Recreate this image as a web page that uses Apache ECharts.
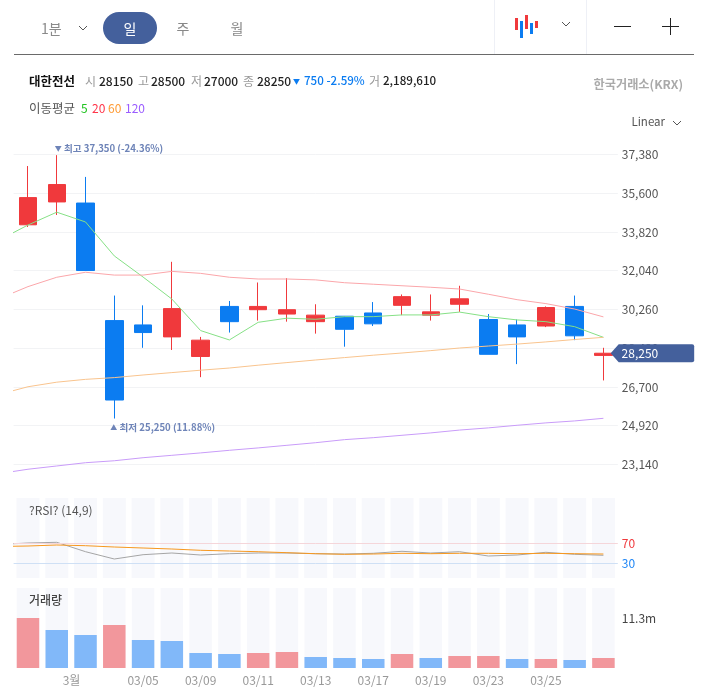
<!DOCTYPE html>
<html>
<head>
<meta charset="utf-8">
<title>대한전선</title>
<script src="https://cdn.jsdelivr.net/npm/echarts@6/dist/echarts.min.js"></script>
<style>html,body{margin:0;padding:0;background:#fff}#c{width:701px;height:697px}</style>
</head>
<body>
<div id="c"></div>
<script>
// The first entry of every array is the session before the visible window; only its line segment shows.
const categories = ['02/25','02/26','02/27','03/03','03/04','03/05','03/06','03/09','03/10','03/11','03/12','03/13','03/16','03/17','03/18','03/19','03/20','03/23','03/24','03/25','03/26','03/27'];
// [open, close, low, high]
const candles = [
  ['-','-','-','-'],
  [34150,35400,34050,36850],[35200,36000,34600,37350],[35150,32050,32050,36350],[29750,26100,25250,30900],
  [29550,29200,28500,30450],[29000,30300,28400,32450],[28100,28850,27150,29000],[30400,29700,29200,30650],
  [30250,30400,29750,31500],[30050,30250,29700,31700],[29700,30000,29150,30500],[29950,29350,28550,29950],
  [30100,29600,29500,30600],[30450,30850,30000,30950],[30000,30150,29750,30950],[30500,30750,30150,31350],
  [29800,28200,28200,30050],[29550,29000,27750,29800],[29500,30350,29450,30400],[30400,29050,28850,30900],
  [28150,28250,27000,28500]
];
const ma5 = [33450,34140,34730,34280,32720,31750,30740,29290,28860,29670,29860,29810,29930,29930,30010,30010,30140,29930,29780,29700,29470,28980];
const ma20 = [30760,31310,31740,31970,31840,31840,32010,31920,31740,31660,31660,31620,31490,31420,31350,31280,31200,30960,30710,30530,30280,29920];
const ma60 = [26360,26710,26920,27050,27130,27250,27360,27470,27570,27700,27820,27940,28050,28160,28260,28370,28490,28580,28670,28770,28880,28980];
const ma120 = [22720,22920,23070,23220,23310,23450,23560,23670,23790,23900,24020,24140,24280,24370,24480,24590,24720,24820,24940,25050,25140,25260];
const rsi = [67,70,71.4,52.6,38,46.6,50,46,48.6,50,50,48.6,48,49.4,53.4,50,52.6,44,46,51.4,47.4,45.4];
const rsiSignal = [63,64,66,64.6,62,60,58,55.4,54,52.6,50.6,48.6,47.4,48,49.4,48.6,49.4,49.4,48.6,49.4,48.6,48];
const volumeM = ['-',11.3,8.59,7.46,9.72,6.33,6.1,3.39,3.16,3.39,3.62,2.49,2.26,2.03,3.16,2.26,2.71,2.71,2.03,2.03,1.81,2.26];
const volumeUp = [0,1,0,0,1,0,0,0,0,1,1,0,0,0,1,0,1,1,0,1,0,1];
const xLabels = {'03/03':'3월','03/05':'03/05','03/09':'03/09','03/11':'03/11','03/13':'03/13','03/17':'03/17','03/19':'03/19','03/23':'03/23','03/25':'03/25'};
const priceTicks = {min:21360,max:37380,interval:1780};
const rsiLevels = [70,30];
const rsiRange = {min:0,max:160};
const volumeRange = {min:0,max:18.08};
const highMark = {idx:2,value:37350,text:'{t|▼} 최고 37,350 (-24.36%)'};
const lowMark = {idx:4,value:25250,text:'{t|▲} 최저 25,250 (11.88%)'};
const lastPrice = {idx:21,value:28250,text:'28,250'};
const volumeMark = {value:11.3,text:'11.3m'};

const RED='#F0393C',BLUE='#0B7CF1',NAVY='#44609C';
const FONT='"Noto Sans CJK KR","Noto Sans",sans-serif';
const stripe='#F7F8FC';

const chart = echarts.init(document.getElementById('c'),null,{renderer:'canvas'});

function t(text,x,y,size,fill,opt){
  opt=opt||{};
  return {type:'text',silent:true,z:20,x:x,y:y,style:{text:text,fontFamily:FONT,fontSize:size,fontWeight:opt.w||400,fill:fill,align:opt.a||'left',verticalAlign:'middle'}};
}
function rect(x,y,w,h,fill,r){return {type:'rect',silent:true,z:19,shape:{x:x,y:y,width:w,height:h,r:r||0},style:{fill:fill}};}
function poly(pts,col){return {type:'polyline',silent:true,z:20,shape:{points:pts},style:{stroke:col,lineWidth:1,fill:null}};}

const graphics=[
  t('1분',41,29,14,'#8a8a8a'),
  poly([[79,26],[83,30],[87,26]],'#555'),
  rect(103,12,54,32,NAVY,16),
  t('일',130,28.5,14,'#fff',{a:'center'}),
  t('주',183,29,14,'#888',{a:'center'}),
  t('월',237,29,14,'#888',{a:'center'}),
  rect(14,54,680,1,'#6a6a6a'),
  rect(494,0,1,54,'#EEF0F6'),
  rect(586,0,1,54,'#EEF0F6'),
  rect(515,18,3,12,RED),rect(520,21,3,17,BLUE),rect(525,15,3,14,RED),rect(530,23,3,11,BLUE),rect(535,21,3,7,RED),
  poly([[562,22],[566,26],[570,22]],'#555'),
  rect(614,26,17,1,'#222'),
  rect(662,26,17,1,'#222'),rect(670,18,1,17,'#222'),
  t('대한전선',29,81,12.5,'#111',{w:700}),
  t('시',85,81,12,'#999'),t('28150',99,81,12,'#222',{w:500}),
  t('고',138,81,12,'#999'),t('28500',151,81,12,'#222',{w:500}),
  t('저',191,81,12,'#999'),t('27000',204,81,12,'#222',{w:500}),
  t('종',243,81,12,'#999'),t('28250',257,81,12,'#222',{w:500}),
  t('▼',293,81,7,BLUE),t('750 -2.59%',304,81,11.6,BLUE,{w:500}),
  t('거',369,81,12,'#999'),t('2,189,610',383,81,11.6,'#222',{w:500}),
  t('한국거래소(KRX)',683,84,12.2,'#aaa',{a:'right',w:700}),
  t('이동평균',29,108,12.5,'#555'),
  t('5',81,108,12,'#22C322'),t('20',92,108,12,'#FF3348'),t('60',108,108,12,'#FF9A33'),t('120',125,108,12,'#9A5CFF'),
  t('Linear',665,122,11.5,'#555',{a:'right'}),
  poly([[673,121],[677,125],[681,121]],'#555'),
  t('?RSI? (14,9)',29,510,12,'#555'),
  t('거래량',29,600,12,'#444',{w:500})
];

const left=13.6,width=604.2;
const xBase={type:'category',data:categories,min:1,max:21,boundaryGap:true,axisLine:{show:false},axisTick:{show:false},splitLine:{show:false},axisLabel:{show:false}};
const lineS=(name,data,color,idx,extra)=>Object.assign({name:name,type:'line',data:data,xAxisIndex:idx,yAxisIndex:idx,symbol:'none',silent:true,smooth:false,lineStyle:{color:color,width:1},z:4},extra||{});
const markLabel=(c)=>({show:true,position:'inside',align:'left',verticalAlign:'middle',fontFamily:FONT,fontSize:9.6,fontWeight:700,color:c,rich:{t:{fontSize:7,color:c,fontFamily:FONT}}});

chart.setOption({
  animation:false,
  backgroundColor:'#fff',
  graphic:{elements:graphics},
  grid:[
    {left:left,width:width,top:154.5,height:348.7},
    {left:left,width:width,top:498,height:80},
    {left:left,width:width,top:588,height:80}
  ],
  xAxis:[
    Object.assign({},xBase,{gridIndex:0}),
    Object.assign({},xBase,{gridIndex:1}),
    Object.assign({},xBase,{gridIndex:2,axisLabel:{show:true,margin:6,fontFamily:FONT,fontSize:12,color:'#999',
      interval:function(i,v){return !!xLabels[v];},
      formatter:function(v){return v==='03/03'?'{m|3월}':(xLabels[v]||'');},
      rich:{m:{padding:[0,28,0,0],fontFamily:FONT,fontSize:12,color:'#999'}}}})
  ],
  yAxis:[
    {gridIndex:0,type:'value',position:'right',min:priceTicks.min,max:priceTicks.max,interval:priceTicks.interval,
      axisLine:{show:false},axisTick:{show:false},
      splitLine:{show:true,showMinLine:false,lineStyle:{color:'#F2F3F5',width:1}},
      axisLabel:{showMinLabel:false,margin:4,fontFamily:FONT,fontSize:12,color:'#555',formatter:function(v){return v.toLocaleString('en-US');}}},
    {gridIndex:1,type:'value',position:'right',min:rsiRange.min,max:rsiRange.max,axisLine:{show:false},axisTick:{show:false},splitLine:{show:false},axisLabel:{show:false}},
    {gridIndex:2,type:'value',position:'right',min:volumeRange.min,max:volumeRange.max,axisLine:{show:false},axisTick:{show:false},splitLine:{show:false},axisLabel:{show:false}}
  ],
  series:[
    {type:'candlestick',data:candles,xAxisIndex:0,yAxisIndex:0,barWidth:18,silent:true,z:3,
      itemStyle:{color:RED,color0:BLUE,borderColor:RED,borderColor0:BLUE,borderWidth:1},
      markPoint:{silent:true,symbol:'none',animation:false,data:[
        {coord:[highMark.idx,highMark.value],symbol:'circle',symbolSize:0,label:Object.assign(markLabel('#6E84B8'),{formatter:highMark.text,offset:[-2,-6.5]})},
        {coord:[lowMark.idx,lowMark.value],symbol:'circle',symbolSize:0,label:Object.assign(markLabel('#6E84B8'),{formatter:lowMark.text,offset:[-4,8.5]})},
        {coord:[lastPrice.idx,lastPrice.value],symbol:'path://M8 0H81Q83 0 83 2V16Q83 18 81 18H8L0 9Z',symbolSize:[83.5,18],symbolKeepAspect:false,symbolOffset:[49,0],
          itemStyle:{color:NAVY},label:{show:true,position:'inside',fontFamily:FONT,fontSize:12,color:'#fff',offset:[-12.5,0],formatter:lastPrice.text}}
      ]}},
    lineS('MA5',ma5,'#86E086',0),
    lineS('MA20',ma20,'#FBA6AA',0),
    lineS('MA60',ma60,'#F9C48E',0),
    lineS('MA120',ma120,'#C99CF9',0),
    {type:'bar',data:categories.map(function(c,i){return i===0?'-':rsiRange.max;}),xAxisIndex:1,yAxisIndex:1,barWidth:23,silent:true,itemStyle:{color:stripe},z:1},
    lineS('RSI',rsi,'#A5A5A5',1,{z:4}),
    lineS('Signal',rsiSignal,'#F7981F',1,{z:5,
      markLine:{silent:true,symbol:'none',animation:false,data:[
        {yAxis:rsiLevels[0],lineStyle:{color:'#F5D6DA',width:1,type:'solid'},label:{show:true,position:'end',distance:4,formatter:String(rsiLevels[0]),fontFamily:FONT,fontSize:12,color:'#F0393C'}},
        {yAxis:rsiLevels[1],lineStyle:{color:'#CFE0F5',width:1,type:'solid'},label:{show:true,position:'end',distance:4,formatter:String(rsiLevels[1]),fontFamily:FONT,fontSize:12,color:'#1F86F5'}}
      ]}}),
    {type:'bar',xAxisIndex:2,yAxisIndex:2,barWidth:22.5,barGap:'-100%',silent:true,z:1,itemStyle:{color:stripe},
      data:categories.map(function(c,i){return i===0?'-':volumeRange.max;})},
    {type:'bar',xAxisIndex:2,yAxisIndex:2,barWidth:22.5,barGap:'-100%',silent:true,z:2,
      data:volumeM.map(function(v,i){
        return {value:v,itemStyle:{color:volumeUp[i]?'#F2979C':'#81B8F9'}};
      }),
      markLine:{silent:true,symbol:'none',animation:false,data:[
        {yAxis:volumeMark.value,lineStyle:{color:'rgba(0,0,0,0)',width:1,type:'solid'},label:{show:true,position:'end',distance:4,formatter:volumeMark.text,fontFamily:FONT,fontSize:12,color:'#444'}}
      ]}}
  ]
});
</script>
</body>
</html>
